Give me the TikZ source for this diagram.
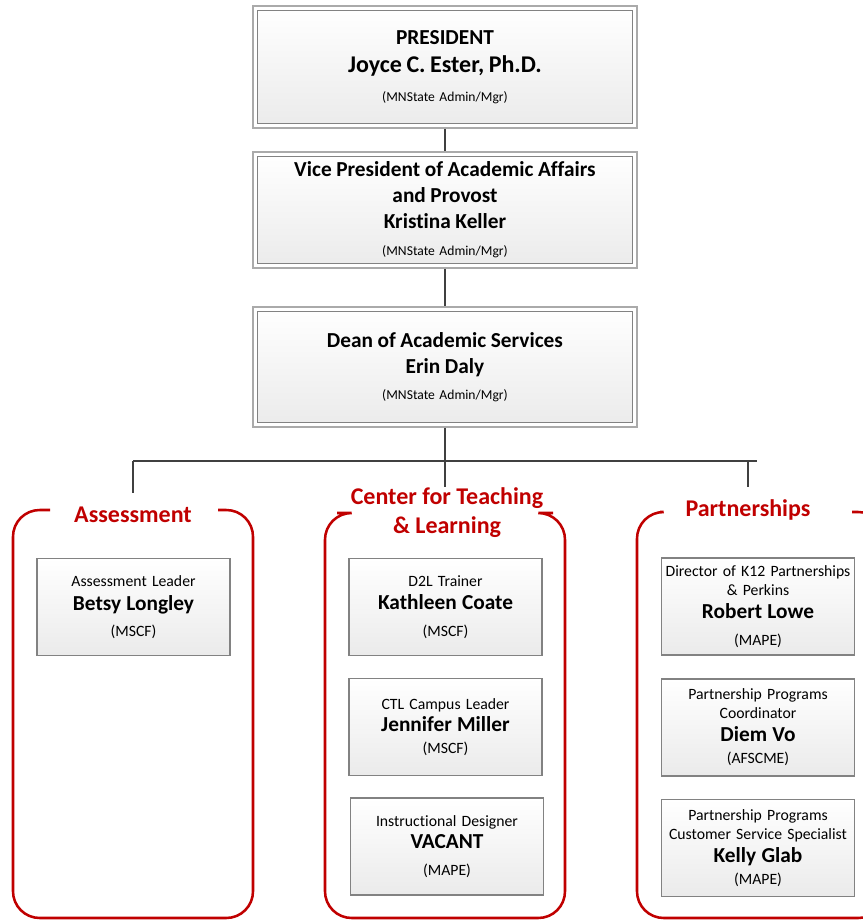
\documentclass[tikz,border=0pt]{standalone}
\usepackage{fontspec}
\setmainfont{Carlito}[Ligatures=NoCommon]
\usepackage{xcolor}
\usetikzlibrary{positioning, calc}
\definecolor{unitred}{RGB}{192,0,0}
\definecolor{linkgray}{RGB}{64,64,64}
\definecolor{framegray}{RGB}{170,170,170}
\definecolor{edgegray}{RGB}{130,130,130}

\tikzset{
    headbox/.style={draw=framegray, line width=1.2pt, fill=white,
        minimum width=288pt, minimum height=#1, align=center, text width=280pt,
        font=\fontsize{10.2}{19.5}\selectfont,
        path picture={\draw[edgegray, line width=0.8pt, top color=white, bottom color=black!8]
            ([shift={(4.5,4.5)}]path picture bounding box.north west) rectangle
            ([shift={(-4.5,-4.5)}]path picture bounding box.south east);}},
    staffbox/.style={draw=edgegray, line width=0.8pt, top color=white, bottom color=black!8,
        minimum width=144.75pt, minimum height=72.75pt, align=center, text width=144pt,
        inner xsep=0pt, inner ysep=2pt, font=\fontsize{11.8}{14.25}\selectfont},
    unittitle/.style={text=unitred, font=\bfseries\fontsize{18}{21.75}\selectfont, align=center},
    unitframe/.style={draw=unitred, line width=1.9pt, rounded corners=20pt},
    link/.style={draw=linkgray, line width=1.9pt}
}
\newcommand{\namefont}{\bfseries\fontsize{16}{14.25}\selectfont}
\newcommand{\headfont}{\bfseries\fontsize{16}{19.5}\selectfont}

\begin{document}
\begin{tikzpicture}[x=0.75pt, y=-0.75pt]
    \useasboundingbox (0,0) rectangle (863,922);

    % Leadership chain
    \node[headbox=91.5pt] (pres) at (445,67)
        {{\headfont PRESIDENT}\\[1.5pt] {\bfseries\fontsize{18}{19.5}\selectfont Joyce C. Ester, Ph.D.}\\[2.25pt] (MNState Admin/Mgr)};
    \node[headbox=87pt] (vp) at (445,210)
        {{\headfont Vice President of Academic Affairs}\\ {\headfont and Provost}\\ {\headfont Kristina Keller}\\[0.75pt] (MNState Admin/Mgr)};
    \node[headbox=90pt] (dean) at (445,367)
        {{\headfont Dean of Academic Services}\\ {\headfont Erin Daly}\\ (MNState Admin/Mgr)};

    \draw[link] (pres) -- (vp);
    \draw[link] (vp) -- (dean);

    % Bus to the three units
    \coordinate (busL) at (133,461);
    \coordinate (busR) at (757,461);
    \draw[link] (dean) -- (dean |- busL);
    \draw[link] (busL) -- (busR);
    \draw[link] (busL) -- ++(0,32);
    \draw[link] (dean |- busL) -- ++(0,26);
    \draw[link] (748,461) -- ++(0,26);

    % Assessment
    \node[unittitle] (asmt) at (133,515) {Assessment};
    \draw[unitframe] (50,510) -- (13,510) -- (13,918) -- (253,918) -- (253,510) -- (218,510);
    \node[staffbox] (betsy) at (133.5,607)
        {Assessment Leader\\[3.5pt] {\namefont Betsy Longley}\\[5.5pt] (MSCF)};

    % Center for Teaching & Learning
    \node[unittitle] (ctl) at (447,513) {Center for Teaching\\ \& Learning};
    \draw[unitframe] (337,513) -- (325,513) -- (325,918) -- (565,918) -- (565,513) -- (553,513);
    \node[staffbox] (kathleen) at (445.5,607)
        {D2L Trainer\\[3.5pt] {\namefont Kathleen Coate}\\[5.5pt] (MSCF)};
    \node[staffbox] (jennifer) at (445.5,727)
        {CTL Campus Leader\\[2.25pt] {\namefont Jennifer Miller}\\[2.25pt] (MSCF)};
    \node[staffbox] (vacant) at (447,846.5)
        {Instructional Designer\\[2.25pt] {\namefont VACANT}\\[6pt] (MAPE)};

    % Partnerships
    \node[unittitle] (part) at (748,510) {Partnerships};
    \draw[unitframe] (660,512) -- (637,512) -- (637,918) -- (885,918) -- (885,512) -- (852,512);
    \node[staffbox] (robert) at (758,606.5)
        {Director of K12 Partnerships\\ \& Perkins\\[3pt] {\namefont Robert Lowe}\\[6pt] (MAPE)};
    \node[staffbox] (diem) at (758,727.5)
        {Partnership Programs\\ Coordinator\\[3pt] {\namefont Diem Vo}\\[2.25pt] (AFSCME)};
    \node[staffbox] (kelly) at (758,848)
        {Partnership Programs\\ Customer Service Specialist\\[3pt] {\namefont Kelly Glab}\\[2.25pt] (MAPE)};
\end{tikzpicture}
\end{document}
